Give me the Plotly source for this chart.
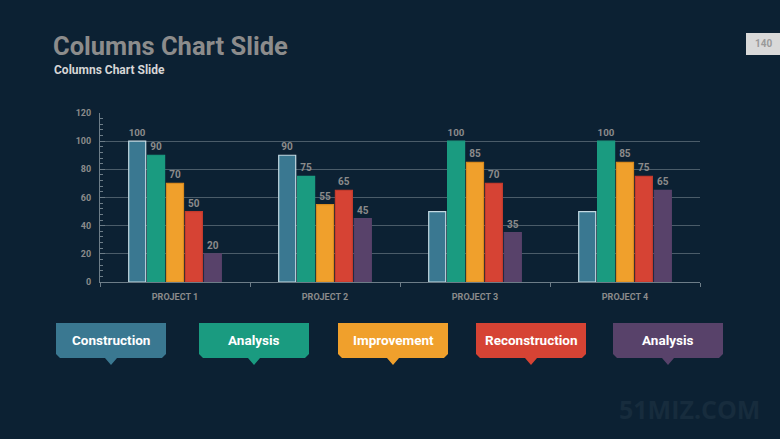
import plotly.graph_objects as go

categories = ["PROJECT 1", "PROJECT 2", "PROJECT 3", "PROJECT 4"]
series_names = ["Construction", "Analysis", "Improvement", "Reconstruction", "Analysis"]
construction = [100, 90, 50, 50]
analysis_a = [90, 75, 100, 100]
improvement = [70, 55, 85, 85]
reconstruction = [50, 65, 70, 75]
analysis_b = [20, 45, 35, 65]
# which value labels are visible in the reference
label_shown = [
    [True, True, False, False],
    [True, True, True, True],
    [True, True, True, True],
    [True, True, True, True],
    [True, True, True, True],
]
colors = ["#3a7891", "#1a9b80", "#f0a02c", "#d64334", "#58426a"]
line_colors = ["#c3d9e2", "#1a9b80", "#d98a1e", "#c23a2c", "#58426a"]
y_ticks = [0, 20, 40, 60, 80, 100, 120]

BG = "#0c2133"
GRAY = "#8b8b8b"
GRID = "#4b5c69"

all_values = [construction, analysis_a, improvement, reconstruction, analysis_b]

fig = go.Figure()
for i, vals in enumerate(all_values):
    fig.add_trace(go.Bar(
        x=categories, y=vals, name=series_names[i],
        marker=dict(color=colors[i], line=dict(color=line_colors[i], width=1.2)),
        text=[str(v) if s else "" for v, s in zip(vals, label_shown[i])],
        texttemplate="%{text}",
        textposition="outside",
        textfont=dict(family="Roboto", size=10, color=GRAY, weight="bold"),
        cliponaxis=False,
        showlegend=False,
    ))

L, R, T, B = 100, 80, 113, 157
W, H = 780, 439
pw, ph = W - L - R, H - T - B


def px(x):
    return (x - L) / pw


def py(y):
    return (H - B - y) / ph


shapes = []
annotations = []

# Legend callouts
box_x = [56, 199, 338, 476, 613]
box_w = 110
top, bot = 323, 358
r = 4
for i, name in enumerate(series_names):
    x0 = box_x[i]
    x1 = x0 + box_w
    cx = x0 + box_w / 2
    pts = [
        (x0, top), (x1, top), (x1, bot - r), (x1 - r, bot),
        (cx + 6, bot), (cx, bot + 7), (cx - 6, bot), (x0 + r, bot), (x0, bot - r),
    ]
    path = "M " + " L ".join(f"{px(a):.5f},{py(b):.5f}" for a, b in pts) + " Z"
    shapes.append(dict(type="path", xref="paper", yref="paper", path=path,
                       fillcolor=colors[i], line=dict(width=0), layer="above"))
    annotations.append(dict(xref="paper", yref="paper", x=px(cx), y=py((top + bot) / 2 - 1),
                            text=name, showarrow=False,
                            font=dict(family="Roboto", size=13.5, color="#ffffff", weight="bold"),
                            xanchor="center", yanchor="middle"))

# page number box
shapes.append(dict(type="rect", xref="paper", yref="paper",
                   x0=px(746), x1=px(783), y0=py(55), y1=py(33),
                   fillcolor="#d9d9d9", line=dict(width=0), layer="above"))
annotations.append(dict(xref="paper", yref="paper", x=px(763), y=py(43.5), text="140",
                        showarrow=False, font=dict(family="Roboto", size=10, color="#9a9a9a", weight="bold"),
                        xanchor="center", yanchor="middle"))

# title and subtitle
annotations.append(dict(xref="paper", yref="paper", x=px(51), y=py(46), text="Columns Chart Slide",
                        showarrow=False, font=dict(family="Roboto", size=25.5, color="#8c8c8c", weight="bold"),
                        xanchor="left", yanchor="middle"))
annotations.append(dict(xref="paper", yref="paper", x=px(52), y=py(70), text="Columns Chart Slide",
                        showarrow=False, font=dict(family="Roboto", size=12, color="#d6d6d6", weight="bold"),
                        xanchor="left", yanchor="middle"))
# watermark
annotations.append(dict(xref="paper", yref="paper", x=px(762), y=py(409), text="51MIZ.COM",
                        showarrow=False, font=dict(family="Open Sans", size=25, color="#172c3d", weight="bold"),
                        xanchor="right", yanchor="middle"))

axis_font = dict(family="Roboto", size=9, color=GRAY, weight="bold")
fig.update_layout(
    width=W, height=H,
    margin=dict(l=L, r=R, t=T, b=B),
    paper_bgcolor=BG, plot_bgcolor=BG,
    barmode="group", bargap=0.37, bargroupgap=0.1,
    shapes=shapes, annotations=annotations,
    font=dict(family="Roboto", color=GRAY),
    xaxis=dict(
        showgrid=False, showline=True, linecolor="#6d7d88", linewidth=1,
        ticks="outside", tickson="boundaries", ticklen=4, tickcolor="#6d7d88",
        tickfont=axis_font, ticklabelstandoff=6,
    ),
    yaxis=dict(
        range=[0, 120], tickvals=y_ticks, showgrid=True, gridcolor=GRID, gridwidth=1,
        showline=True, linecolor="#6d7d88", linewidth=1, zeroline=False,
        ticks="inside", ticklen=5, tickcolor="#6d7d88",
        minor=dict(ticks="inside", dtick=4, ticklen=3, tickcolor="#6d7d88", showgrid=False),
        tickfont=axis_font, ticklabelstandoff=6,
    ),
)

fig.write_html("out.html", config={"displayModeBar": False},
               post_script="document.body.style.margin='0';document.body.style.background='#0c2133';")
